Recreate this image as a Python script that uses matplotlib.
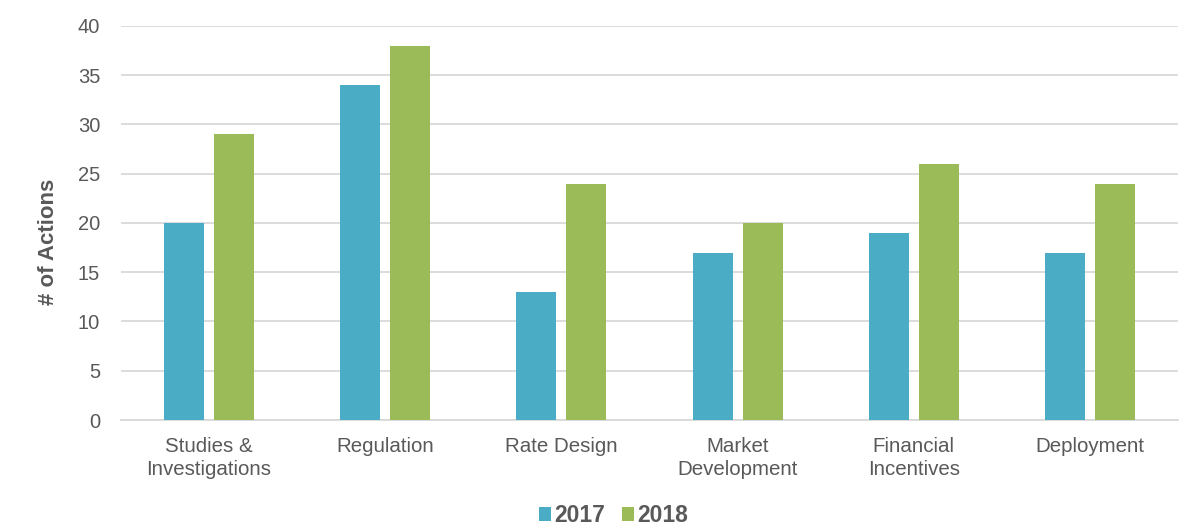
import matplotlib.pyplot as plt
import numpy as np

plt.rcParams['font.family'] = ['Liberation Sans', 'DejaVu Sans']

categories = ['Studies &\nInvestigations', 'Regulation', 'Rate Design',
              'Market\nDevelopment', 'Financial\nIncentives', 'Deployment']
actions_2017 = [20, 34, 13, 17, 19, 17]
actions_2018 = [29, 38, 24, 20, 26, 24]

blue = '#4BACC6'
green = '#9BBB59'
grey = '#595959'
grid_c = '#D9D9D9'

fig = plt.figure(figsize=(11.96, 5.29), dpi=100)
ax = fig.add_axes([0.1012, 0.206, 0.8838, 0.745])

x = np.arange(len(categories))
w = 0.227
gap = 0.057
ax.bar(x - (w + gap) / 2, actions_2017, w, color=blue, label='2017', zorder=3)
ax.bar(x + (w + gap) / 2, actions_2018, w, color=green, label='2018', zorder=3)

ax.set_xlim(-0.5, len(categories) - 0.5)
ax.set_ylim(0, 40)
ax.set_yticks(range(0, 41, 5))
ax.yaxis.grid(True, color=grid_c, lw=1.3, zorder=0)
ax.set_axisbelow(True)
for s in ['top', 'right', 'left']:
    ax.spines[s].set_visible(False)
ax.spines['bottom'].set_color(grid_c)
ax.spines['bottom'].set_linewidth(1.3)

ax.set_xticks(x)
ax.set_xticklabels(categories, fontsize=14.8, color=grey, linespacing=1.3)
ax.tick_params(axis='x', length=0, pad=12)
ax.tick_params(axis='y', length=0, pad=15, labelsize=14.5, labelcolor=grey)

# y label sits a bit below the axes centre in the original
fig.text(48 / 1196, 1 - 242 / 529, '# of Actions', fontsize=16, fontweight='bold',
         color=grey, rotation=90, ha='center', va='center')

leg = fig.legend(loc='lower center', bbox_to_anchor=(0.513, -0.036), ncol=2, frameon=False,
                 handlelength=0.55, handleheight=0.55, handletextpad=0.15, columnspacing=0.7,
                 prop={'size': 16.5, 'weight': 'bold'})
for t in leg.get_texts():
    t.set_color(grey)

fig.savefig('out.png', dpi=100, facecolor='white')
